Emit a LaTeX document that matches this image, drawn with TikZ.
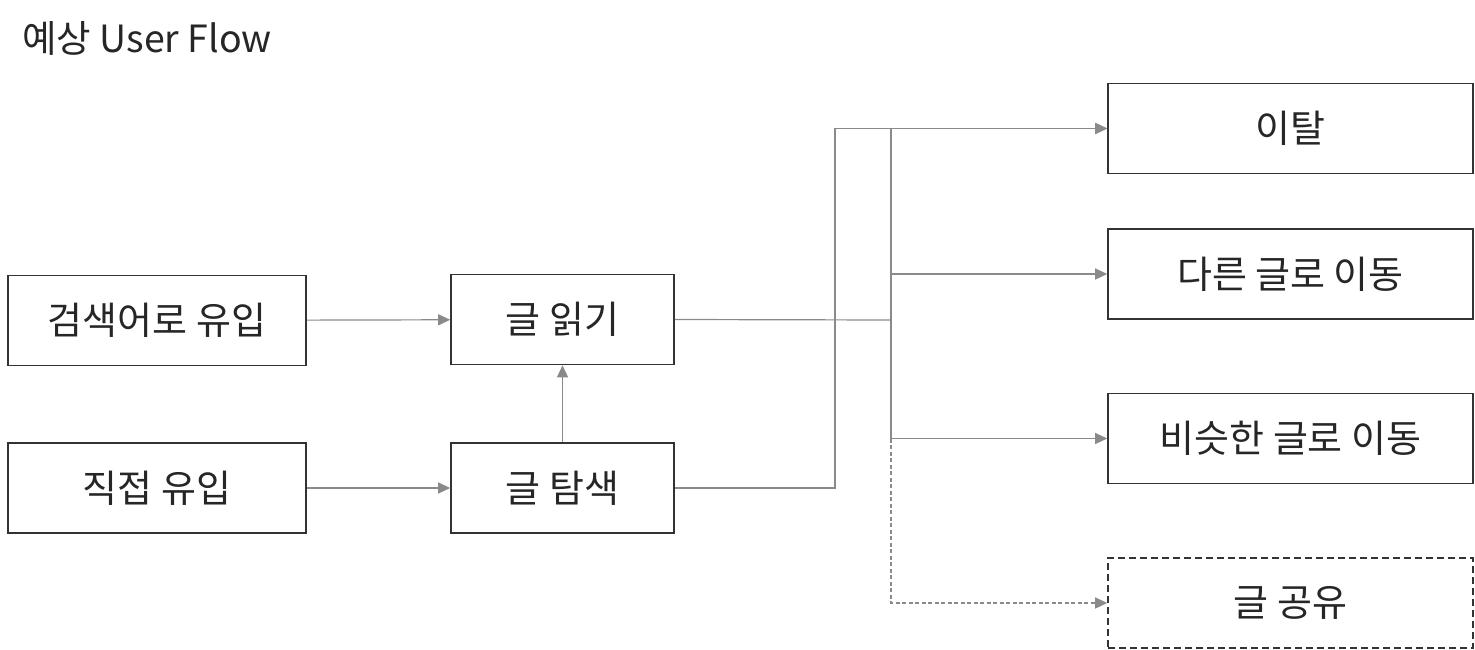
\documentclass[tikz,border=0pt]{standalone}
\usepackage{fontspec}
\setmainfont{Noto Sans CJK KR}
\usetikzlibrary{arrows.meta}
\definecolor{linegray}{HTML}{8A8A8A}
\definecolor{boxline}{HTML}{333333}
\begin{document}
\begin{tikzpicture}[x=1pt,y=-1pt,
  box/.style={draw=boxline,line width=1.6pt,minimum width=#1,minimum height=90pt,inner sep=0pt,font=\fontsize{38}{44}\selectfont,text=black!85},
  box/.default=298pt,
  dbox/.style={box=365pt,dash pattern=on 7pt off 4pt},
  conn/.style={draw=linegray,line width=1.2pt,-{Triangle[length=12pt,width=11pt]}},
  connd/.style={conn,dash pattern=on 4pt off 2.5pt},
  plain/.style={draw=linegray,line width=1.2pt}]
\useasboundingbox (0,0) rectangle (1475,650);
\node[anchor=west,font=\fontsize{37.5}{44}\selectfont,inner sep=0pt,text=black!85] (title) at (22,38) {예상 User Flow};
\node[box] (search) at (157,320.5) {검색어로 유입};
\node[box] (direct) at (157,488) {직접 유입};
\node[box=223pt] (read) at (562.5,319.5) {글 읽기};
\node[box=223pt] (explore) at (562.5,488) {글 탐색};
\node[box=365pt] (leave) at (1290.5,128.5) {이탈};
\node[box=365pt] (other) at (1290.5,274) {다른 글로 이동};
\node[box=365pt] (similar) at (1290.5,438.5) {비슷한 글로 이동};
\node[dbox] (share) at (1290.5,603) {글 공유};
\coordinate (hub) at (891,320);
\draw[conn] (search) -- (read);
\draw[conn] (direct) -- (explore);
\draw[conn] (explore) -- (read);
\draw[conn] (explore.east) -| (835,128.5) -- (leave.west);
\draw[plain] (read.east) -- (hub);
\draw[conn] (hub) |- (leave.west);
\draw[conn] (hub) |- (other.west);
\draw[conn] (hub) |- (similar.west);
\draw[connd] (891,438.5) |- (share.west);
\end{tikzpicture}
\end{document}
